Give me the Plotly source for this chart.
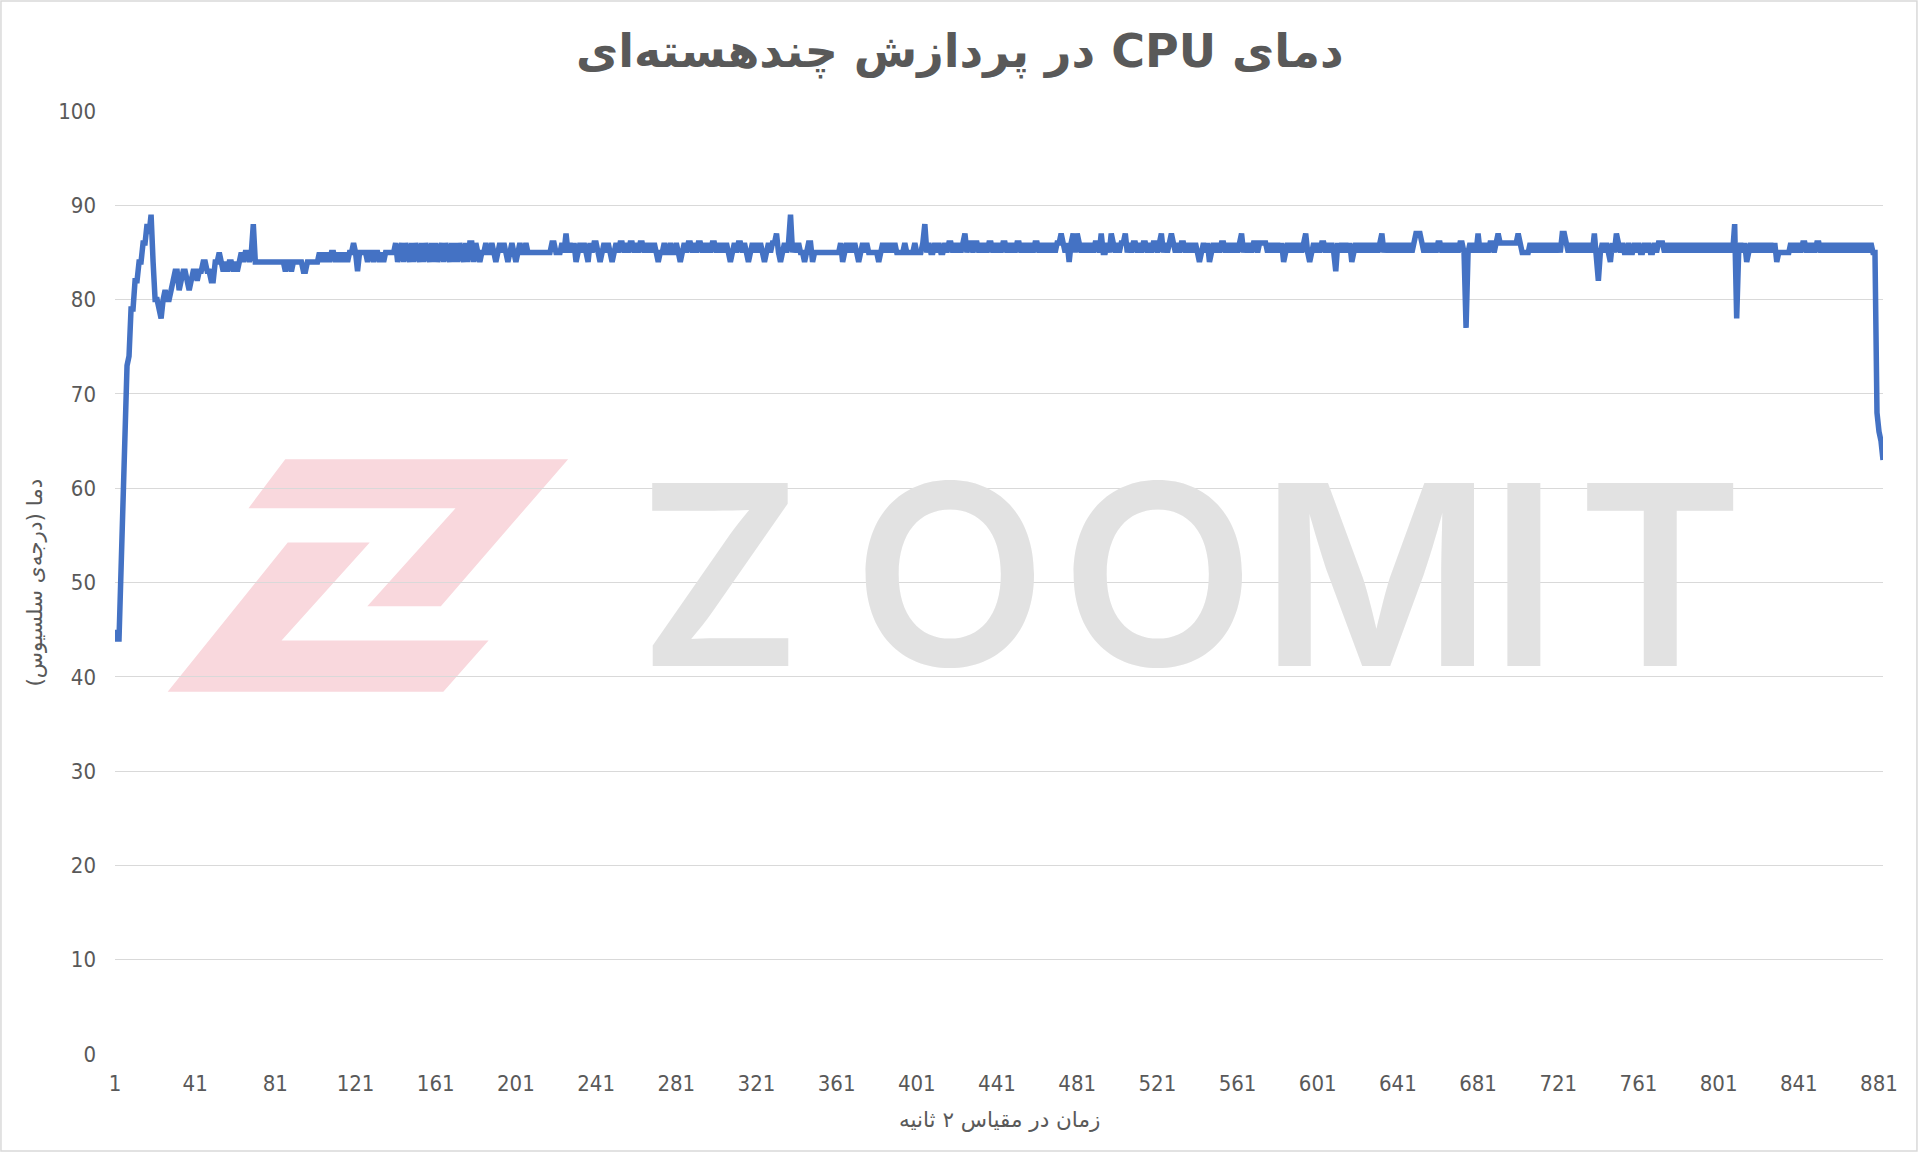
import plotly.graph_objects as go

# CPU temperature (°C), one value per 2-second sample
temp_001_040 = [45,44,44,51,58,66,73,74,79,79, 82,82,84,84,86,86,88,87,89,84, 80,80,79,78,80,81,80,80,81,82, 83,83,81,82,83,83,82,81,82,83]
temp_041_080 = [83,82,83,83,84,84,83,83,82,82, 84,84,85,84,83,84,83,84,84,83, 84,83,84,85,84,85,85,84,85,88, 84,84,84,84,84,84,84,84,84,84]
temp_081_120 = [84,84,84,84,84,83,84,84,83,84, 84,84,84,84,83,83,84,84,84,84, 84,84,85,84,85,84,85,84,85,85, 84,85,84,85,84,85,84,85,85,86]
temp_121_160 = [85,83,85,85,85,85,84,85,85,84, 85,85,84,85,84,85,85,85,85,85, 86,84,85,86,84,86,85,84,86,84, 86,85,84,86,84,86,85,84,86,84]
temp_161_200 = [86,84,85,86,84,86,85,84,86,84, 86,84,86,85,84,86,84,86,86,84, 86,85,84,85,85,86,85,85,86,85, 84,85,86,85,86,85,84,85,86,85]
temp_201_240 = [84,85,86,85,85,86,85,85,85,85, 85,85,85,85,85,85,85,85,86,86, 85,85,85,86,85,87,85,86,85,86, 84,85,86,85,86,85,84,86,85,86]
temp_241_280 = [86,85,84,85,86,85,86,85,84,85, 86,85,86,86,85,86,85,86,86,85, 86,85,86,86,85,86,85,86,85,86, 85,84,85,85,86,85,85,86,85,85]
temp_281_320 = [86,85,84,85,86,85,86,86,85,86, 85,86,86,85,86,85,86,85,86,86, 85,86,85,86,85,86,85,84,85,86, 85,86,86,85,86,85,84,85,86,85]
temp_321_360 = [86,85,86,85,84,85,86,85,86,86, 87,85,84,85,86,85,86,89,85,86, 85,86,85,85,84,85,86,86,84,85, 85,85,85,85,85,85,85,85,85,85]
temp_361_400 = [85,85,86,84,85,86,85,86,85,86, 85,84,85,86,85,86,85,85,85,85, 85,84,85,86,85,86,85,86,85,86, 85,85,85,85,86,85,85,85,85,86]
temp_401_440 = [85,85,85,86,88,85,86,85,85,86, 85,86,85,85,86,85,86,86,85,86, 85,86,85,86,87,85,86,86,85,86, 86,85,86,85,86,85,86,86,85,86]
temp_441_480 = [85,86,85,86,86,85,86,85,86,85, 86,86,85,86,85,86,85,86,85,86, 86,85,86,85,86,85,86,85,86,85, 86,86,87,86,85,86,84,86,87,85]
temp_481_520 = [87,86,85,86,85,86,85,86,85,86, 86,85,87,85,85,86,85,87,86,85, 86,85,86,86,87,85,86,85,86,86, 85,86,85,86,86,85,86,85,86,86]
temp_521_560 = [85,86,87,85,86,85,86,87,86,85, 86,85,86,86,85,86,85,86,85,86, 85,84,85,86,85,86,84,85,86,85, 86,85,86,86,85,86,85,86,85,86]
temp_561_600 = [85,86,87,85,86,85,86,85,86,86, 85,86,86,86,86,85,86,85,86,85, 86,85,86,84,85,86,85,86,85,86, 85,86,85,86,87,85,84,85,86,85]
temp_601_640 = [86,85,86,86,85,86,85,86,85,83, 86,85,86,85,86,85,86,84,85,86, 85,86,85,86,85,86,85,86,85,86, 85,86,87,85,86,85,86,85,86,85]
temp_641_680 = [86,85,86,85,86,85,86,85,86,87, 87,87,86,85,86,85,86,85,86,85, 86,86,85,86,85,86,85,86,85,86, 85,86,86,85,77,85,86,85,86,85]
temp_681_720 = [87,85,86,85,86,85,86,86,85,86, 87,86,86,86,86,86,86,86,86,86, 87,86,85,85,85,85,86,85,86,85, 86,85,86,85,86,85,86,85,86,85]
temp_721_760 = [86,85,87,87,86,85,86,85,86,85, 86,85,86,85,86,85,86,85,87,85, 82,85,86,85,86,85,84,86,85,87, 86,85,86,85,85,86,85,85,86,85]
temp_761_800 = [86,85,85,86,85,86,85,85,86,85, 86,86,86,85,86,85,86,85,86,85, 86,85,86,85,86,85,86,85,86,85, 86,85,86,85,86,85,86,85,86,85]
temp_801_840 = [86,85,86,85,86,85,86,85,88,78, 85,86,85,86,84,85,86,85,86,85, 86,85,86,85,86,85,86,85,86,84, 85,85,85,85,85,85,86,85,86,85]
temp_841_883 = [86,85,86,86,85,86,85,86,85,86, 86,85,86,85,86,85,86,85,86,85, 86,85,86,85,86,85,86,85,86,85, 86,85,86,85,86,85,86,85,85,68, 66,65,63]

temps = (temp_001_040 + temp_041_080 + temp_081_120 + temp_121_160 + temp_161_200 +
         temp_201_240 + temp_241_280 + temp_281_320 + temp_321_360 + temp_361_400 +
         temp_401_440 + temp_441_480 + temp_481_520 + temp_521_560 + temp_561_600 +
         temp_601_640 + temp_641_680 + temp_681_720 + temp_721_760 + temp_761_800 +
         temp_801_840 + temp_841_883)
samples = list(range(1, len(temps) + 1))

x_tick_values = [1, 41, 81, 121, 161, 201, 241, 281, 321, 361, 401, 441, 481,
                 521, 561, 601, 641, 681, 721, 761, 801, 841, 881]
y_tick_values = [0, 10, 20, 30, 40, 50, 60, 70, 80, 90, 100]

RLE, PDF = "\u202B", "\u202C"
title_text = RLE + "دمای CPU در پردازش چندهسته‌ای" + PDF
x_title = RLE + "زمان در مقیاس ۲ ثانیه" + PDF
y_title = RLE + "دما (درجه‌ی سلسیوس)" + PDF

GREY = "#595959"
GRID = "#D9D9D9"
TICK_FONT = dict(family="Liberation Sans Narrow, DejaVu Sans Condensed, Arial Narrow, sans-serif",
                 size=22, color=GREY)

# plot-area geometry (pixels) used to place decorations in paper coordinates
W, H = 1920, 1153
ML, MR, MT, MB = 115, 37, 111, 99
PW, PH = W - ML - MR, H - MT - MB
S = W / 1568.0  # reference thumbnail scale


def paper_xy(px, py):
    X, Y = px * S, py * S
    return (X - ML) / PW, (H - MB - Y) / PH


def poly_path(pts):
    coords = [paper_xy(x, y) for x, y in pts]
    return "M " + " L ".join(f"{a:.4f},{b:.4f}" for a, b in coords) + " Z"


logo_upper = [(233, 375), (464, 375), (360, 495), (300, 495), (372, 415), (203, 415)]
logo_lower = [(235, 443), (302, 443), (230, 523), (399, 523), (362, 565), (137, 565)]
PINK = "#F9D8DD"
WM_GREY = "#E2E2E2"

wm_letters = ["Z", "O", "O", "M", "I", "T"]
wm_centers = [588, 776, 946, 1124, 1245, 1356]

fig = go.Figure()
fig.add_trace(go.Scatter(x=samples, y=temps, mode="lines",
                         line=dict(color="#4472C4", width=5.5),
                         hoverinfo="skip", showlegend=False))

annotations = [
    dict(text=title_text, xref="paper", yref="paper", x=0.478, y=1.0636,
         xanchor="center", yanchor="middle", showarrow=False,
         font=dict(family="DejaVu Sans", size=46, color=GREY, weight="bold")),
    dict(text=x_title, xref="paper", yref="paper", x=0.5, y=-0.069,
         xanchor="center", yanchor="middle", showarrow=False,
         font=dict(family="DejaVu Sans", size=21.5, color=GREY)),
    dict(text=y_title, xref="paper", yref="paper", x=-0.0458, y=0.5,
         xanchor="center", yanchor="middle", showarrow=False, textangle=-90,
         font=dict(family="DejaVu Sans", size=21.5, color=GREY)),
]
for letter, cx in zip(wm_letters, wm_centers):
    px_, py_ = paper_xy(cx, 469)
    annotations.append(dict(text=letter, xref="paper", yref="paper",
                            x=px_, y=py_, xanchor="center", yanchor="middle", showarrow=False,
                            font=dict(family="Inter, Roboto, sans-serif", size=252,
                                      color=WM_GREY, weight=600)))

shapes = [
    dict(type="rect", xref="paper", yref="paper", x0=-0.0645, x1=1.0192,
         y0=-0.1029, y1=1.1166, line=dict(color=GRID, width=1.5), layer="below"),
    dict(type="path", xref="paper", yref="paper", path=poly_path(logo_upper),
         fillcolor=PINK, line=dict(width=0), layer="below"),
    dict(type="path", xref="paper", yref="paper", path=poly_path(logo_lower),
         fillcolor=PINK, line=dict(width=0), layer="below"),
]

fig.update_layout(
    width=W, height=H,
    paper_bgcolor="white", plot_bgcolor="rgba(0,0,0,0)",
    margin=dict(l=ML, r=MR, t=MT, b=MB),
    xaxis=dict(range=[1, 883], tickmode="array", tickvals=x_tick_values,
               showgrid=False, zeroline=False, showline=False, ticks="",
               tickfont=TICK_FONT, ticklabelstandoff=14),
    yaxis=dict(range=[0, 100], tickmode="array", tickvals=y_tick_values,
               showgrid=True, gridcolor=GRID, gridwidth=1, zeroline=False,
               showline=False, ticks="", tickfont=TICK_FONT, ticklabelstandoff=18),
    annotations=annotations,
    shapes=shapes,
)

fig.write_html("out.html", config={"displayModeBar": False},
               post_script="document.body.style.margin='0';")
